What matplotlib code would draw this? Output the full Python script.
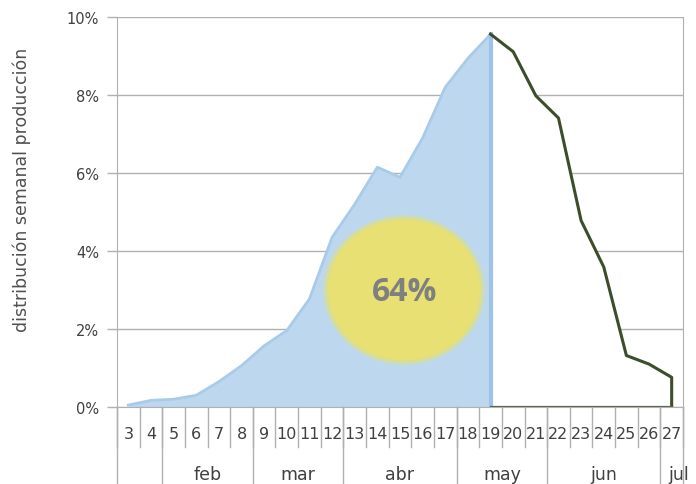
import matplotlib
matplotlib.use("Agg")
import matplotlib.pyplot as plt
from matplotlib.patches import Ellipse
from matplotlib.transforms import blended_transform_factory
import numpy as np

# ---- data ----
weeks = ["3", "4", "5", "6", "7", "8", "9", "10", "11", "12", "13", "14", "15",
         "16", "17", "18", "19", "20", "21", "22", "23", "24", "25", "26", "27"]
harvested = [0.05, 0.17, 0.20, 0.30, 0.65, 1.06, 1.57, 1.96, 2.77, 4.35, 5.20,
             6.15, 5.89, 6.90, 8.20, 8.94, 9.56]          # weeks 3..19
remaining = [9.56, 9.11, 7.98, 7.41, 4.78, 3.59, 1.32, 1.10, 0.76]  # weeks 19..27
months = ["", "feb", "mar", "abr", "may", "jun", "jul"]
month_weeks = [2, 4, 4, 5, 4, 5, 1]
yticks = [0, 2, 4, 6, 8, 10]
ytick_labels = ["0%", "2%", "4%", "6%", "8%", "10%"]
ylabel = "distribución semanal producción"
share_label = "64%"

plt.rcParams['font.family'] = ['DejaVu Sans']
text_color = "#404040"
grid_color = "#B0B0B0"

fig = plt.figure(figsize=(6.96, 4.85), dpi=100)
ax = fig.add_axes([117/696, 1-408/485, 566/696, 390/485])

x_h = np.arange(len(harvested))
x_r = np.arange(len(harvested) - 1, len(harvested) - 1 + len(remaining))

# blue area
ax.fill_between(x_h, 0, harvested, color="#BDD7EE", lw=0, zorder=2)
ax.plot(x_h, harvested, color="#A9CBEA", lw=2, zorder=3, solid_joinstyle="round")
ax.plot([x_h[-1], x_h[-1]], [0, harvested[-1]], color="#9DC3E6", lw=3, zorder=3)

# remaining area (white with dark green outline)
rx = np.concatenate([x_r, [x_r[-1], x_r[0]]])
ry = np.concatenate([remaining, [0, 0]])
ax.fill(rx, ry, facecolor="white", edgecolor="none", zorder=2)
ax.plot(np.concatenate([x_r, [x_r[-1]]]), np.concatenate([remaining, [0]]),
        color="#3B4D2A", lw=2.2, zorder=4, solid_joinstyle="round")
ax.plot([x_r[0], x_r[-1]], [0, 0], color="#5A6650", lw=1.6, zorder=4)

# ellipse with glow
cx, cy = 12.18, 3.0
for k, a in zip([1.07, 1.05, 1.03], [0.35, 0.5, 0.7]):
    ax.add_patch(Ellipse((cx, cy), 6.7 * k, 3.6 * k, facecolor="#DCE08C",
                         edgecolor="none", alpha=a, zorder=5))
ax.add_patch(Ellipse((cx, cy), 6.7, 3.6, facecolor="#E8E072", edgecolor="none", zorder=6))
ax.text(cx, cy - 0.03, share_label, ha="center", va="center", fontsize=23,
        fontweight="bold", color="#7F7F7F", family=["Open Sans", "DejaVu Sans"], zorder=7)

# axes
ax.set_xlim(-0.5, len(weeks) - 0.5)
ax.set_ylim(0, 10)
ax.set_yticks(yticks)
ax.set_yticklabels(ytick_labels, color=text_color, fontsize=10.5)
ax.tick_params(axis="y", length=7, color=grid_color, width=1, pad=6)
ax.set_xticks([])
ax.grid(axis="y", color=grid_color, lw=1, zorder=0)
ax.set_axisbelow(True)
for s in ["left", "right", "bottom"]:
    ax.spines[s].set_color(grid_color)
ax.spines["top"].set_visible(False)

# multi-level category axis
tr = blended_transform_factory(ax.transData, ax.transAxes)
short = -40/390
long_ = -78/390
for i in range(len(weeks) + 1):
    xb = i - 0.5
    ax.plot([xb, xb], [0, short], color=grid_color, lw=1, transform=tr, clip_on=False)
for i, w in enumerate(weeks):
    ax.text(i, -27/390, w, transform=tr, ha="center", va="center", fontsize=11.5,
            color=text_color)
start = 0
bounds = [-0.5]
for m, n in zip(months, month_weeks):
    end = start + n
    bounds.append(end - 0.5)
    center = (start + end - 1) / 2
    if n == 1:
        center += 0.3
    if m:
        ax.text(center, -67/390, m, transform=tr, ha="center", va="center",
                fontsize=12.5, color=text_color)
    start = end
for b in bounds:
    ax.plot([b, b], [0, long_], color=grid_color, lw=1, transform=tr, clip_on=False)

fig.text(22/696, 1-190/485, ylabel, rotation=90, ha="center", va="center",
         fontsize=12.5, color="#505050")

fig.savefig("out.png", dpi=100)
